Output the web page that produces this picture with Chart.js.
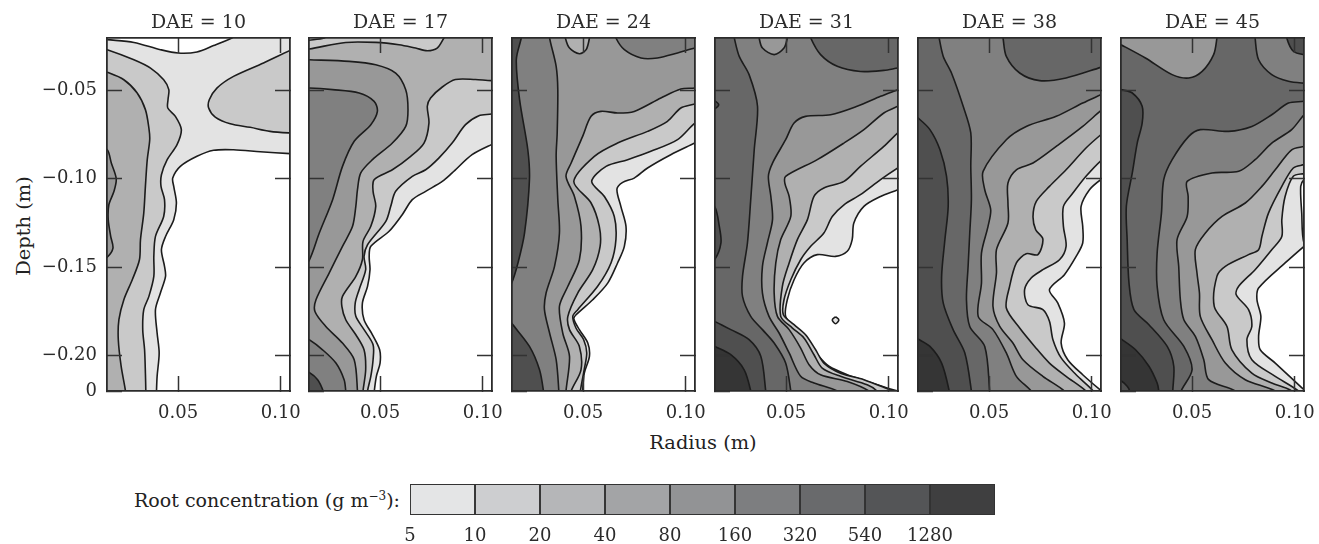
<!DOCTYPE html>
<html>
<head>
<meta charset="utf-8">
<title>Root concentration</title>
<script src="https://cdn.jsdelivr.net/npm/chart.js@4/dist/chart.umd.min.js"></script>
<style>
  html, body { margin: 0; padding: 0; background: #fff; }
  #figure { position: relative; width: 1319px; height: 544px; overflow: hidden; font-family: "DejaVu Serif", serif; color: #222; }
  canvas { position: absolute; display: block; }
  .label { position: absolute; white-space: nowrap; font-size: 19.4px; line-height: 22px; }
  .label sup { font-size: 12px; line-height: 0; }
  #depth-label { left: 24px; top: 226px; transform: translate(-50%, -50%) rotate(-90deg); }
  #radius-label { left: 703px; top: 443px; transform: translate(-50%, -50%); }
  #legend-label { right: 919px; top: 489px; font-size: 19px; }
</style>
</head>
<body>
<div id="figure">
  <div class="label" id="depth-label">Depth (m)</div>
  <div class="label" id="radius-label">Radius (m)</div>
  <div class="label" id="legend-label">Root concentration (g m<sup>−3</sup>):</div>
</div>
<script>
// Contours as [radius mm, depth mm], each closed outside the axes
const daeValues = [10, 17, 24, 31, 38, 45];
const xTicks = [0.05, 0.10];
const xTickLabels = ['0.05', '0.10'];
const yTicks = [-0.05, -0.10, -0.15, -0.20, -0.22];
const yTickLabels = ['−0.05', '−0.10', '−0.15', '−0.20', '0'];
const legendLabels = ['5', '10', '20', '40', '80', '160', '320', '540', '1280', ''];
const legendShades = ['#e4e5e6', '#cdced0', '#b5b6b8', '#a3a4a6', '#929395', '#7d7e80', '#696a6c', '#545557', '#3f3f40'];
const panelShades = ['#ffffff', '#e3e3e3', '#c9c9c9', '#b0b0b0', '#989898', '#808080', '#676767', '#4f4f4f', '#353535'];

// DAE = 10
const dae10Above5 = [[15.5,21.3],[28.5,22.9],[41.4,27],[50,28.9],[59.2,28.3],[67.3,24.7],[76.2,20.4],[78.6,18.5],[110,15],[110,86],[104.5,85.8],[90,84.7],[77,83.6],[67.3,83.9],[59.2,87.3],[51.1,93],[47.4,99.6],[47.9,104.3],[49.2,113.7],[47.9,123.1],[43.9,132.6],[41.9,140.1],[43.4,149.5],[43.9,155.2],[41.4,164.6],[39,174],[39.8,187.2],[40.8,198.5],[39.8,211.7],[39.5,220],[39.4,226],[10,226],[10,20.5]];
const dae10Above10a = [[10,25.5],[15.5,27],[28.5,32.7],[36.6,37.4],[43,44],[45.5,49.6],[45.1,55.3],[45,60],[48.7,64.7],[51.6,72.2],[49.5,80.7],[44.7,89.2],[41.9,97.7],[41.7,104.3],[43.4,111.8],[43,121.3],[39,132.6],[38.2,143.9],[38.2,155.2],[35.8,166.5],[33.3,174],[32.8,185.3],[33.7,196.7],[34.1,209.9],[34.3,220],[34.3,226],[10,226]];
const dae10Above10b = [[110,25],[104.5,27.4],[91.6,34.5],[77,42.1],[68.9,48.7],[65.2,55.3],[64.9,60],[68.1,65.1],[75.4,68.9],[85.1,70.9],[94.8,73.2],[104.5,74.1],[110,74.2]];
const dae10Above20 = [[10,38],[15.5,39.8],[23.6,44],[30.1,51.5],[34.1,60.9],[35.8,71.3],[36.2,77.9],[35,89.2],[34.1,104.3],[33.3,119.4],[31.7,134.4],[31.2,145.8],[27.7,157.1],[23.6,168.4],[21.2,179.7],[20.9,191],[22.3,206.1],[24.4,220],[24.8,226],[10,226]];
const dae10Above40 = [[10,81],[15.5,83.6],[17.5,91.1],[19.9,100],[18.8,107.1],[16.3,114.7],[16,123.1],[17.2,132.6],[18.3,139.2],[15.5,144.3],[10,148]];

// DAE = 17
const dae17Above5 = [[110,78],[104.2,80.7],[94.8,86.4],[85.1,96.7],[80.3,101.5],[72.2,107.1],[65.7,111.8],[60.8,120.3],[54.4,129.7],[45.5,138.2],[44.7,143.9],[45.1,151.4],[43.9,160.8],[41.4,170.3],[42.2,179.7],[46.3,188.2],[49.8,196.7],[50,204.2],[48.2,211.7],[47.2,220],[46.8,226],[10,226],[10,15],[110,15]];
const dae17Above10 = [[10,22.5],[15.5,21.7],[22.8,20.4],[25.2,18.5],[110,15],[110,62],[104.2,63.4],[98.1,64.3],[91.6,69.4],[85.1,79.8],[78.6,88.3],[72.2,94.9],[65.7,98.6],[57.6,107.1],[55.2,115.6],[52.8,124.1],[43.9,137.3],[42.2,143.9],[43,151.4],[39.8,162.7],[37.9,170.3],[38.2,177.8],[42.2,185.3],[46.6,193.8],[46.6,202.3],[45.5,211.7],[43.9,220],[43.5,226],[10,226]];
const dae17Above20 = [[10,27],[15.5,26.6],[33.3,22.9],[47.9,22.9],[59.2,24.2],[67.3,26.1],[73,27.6],[77.8,26.1],[81.1,20.4],[82.7,17.6],[110,15],[110,44],[104.2,44.5],[96.4,43.9],[86.7,43.9],[80.3,48.1],[74.6,54.3],[73,59],[73.8,68.5],[71.4,79.8],[64.9,87.3],[56,94.9],[47.1,100.5],[46.6,107.1],[47.9,115.6],[45.5,126.9],[41.7,135.4],[41.4,145.8],[38.2,155.2],[31.7,166.5],[31.4,172.1],[33.3,179.7],[38.2,188.2],[42.2,196.7],[43,208],[41.7,220],[41.5,226],[10,226]];
const dae17Above40 = [[10,32.5],[15.5,32.7],[35,33.6],[47.9,35.5],[57.6,40.2],[62.5,49.6],[63.6,60.9],[62.5,70.4],[56,79.8],[46.3,89.2],[40.6,96.7],[39,106.2],[38.2,115.6],[36.6,126.9],[31.7,138.2],[25.2,153.3],[18.8,168.4],[18.3,175],[23.6,183.5],[31.7,192.9],[37.4,202.3],[39,220],[39,226],[10,226]];
const dae17Above80a = [[10,49],[15.5,48.7],[26.9,49.6],[39.8,51.5],[47.1,56.2],[48.7,61.9],[45.5,69.4],[37.4,78.8],[31.7,93],[26.9,111.8],[20.4,130.7],[15.5,146.1],[10,154]];
const dae17Above80b = [[10,188],[15.5,191],[22,196.7],[28.5,204.2],[32.5,213.6],[33.3,220],[33.8,226],[10,226]];
const dae17Above320 = [[10,207],[15.5,209.5],[19.6,213.6],[22.3,220],[23.5,226],[10,226]];

// DAE = 24
const dae24Above5 = [[110,76.5],[104.4,79.8],[92.7,86.4],[81.4,93.9],[74.9,99.6],[69.3,102],[66.5,105.8],[68.4,115.6],[70.9,126.9],[70.1,138.2],[66.8,147.6],[62,159],[54.7,168.4],[46.6,176.9],[45.5,179.3],[48.2,185.3],[52.3,192.9],[53.1,200.4],[50.6,209.9],[49.8,220],[49.7,226],[10,226],[10,15],[110,15]];
const dae24Above10 = [[110,64.5],[104.4,68.5],[96,77.9],[83,84.5],[71.7,89.2],[61.2,93],[54.2,101.5],[60.4,110],[65.2,121.3],[66,134.4],[63.6,147.6],[57.1,160.8],[47.4,174],[45,177.8],[46.6,184.5],[50.3,191],[51.8,198.5],[50.6,207.6],[48.7,220],[48.4,226],[10,226],[10,15],[110,15]];
const dae24Above20 = [[110,55],[104.4,57.7],[97.6,60],[91.1,67.5],[81.4,73.2],[66.8,79.8],[55.5,87.3],[45.5,101.5],[53.9,113.7],[57.9,126.9],[58.3,138.2],[54.7,151.4],[47.4,164.6],[42.6,177.8],[43.4,185.3],[48.2,194.8],[49,208],[44.2,220],[43.5,226],[10,226],[10,15],[110,15]];
const dae24Above40 = [[110,47.5],[104.4,48.7],[97.6,49.2],[87.9,54.3],[74.9,61.9],[66.8,62.8],[58.7,61.9],[53.9,64.7],[49.8,76],[44.2,91.1],[41.7,98.6],[45.8,110],[49,126.9],[48.2,145.8],[42.6,160.8],[38.5,172.1],[40.1,187.2],[43.4,200.4],[41.7,220],[41.5,226],[10,226],[10,15],[110,15]];
const dae24Island20 = [[41,15],[41.4,20.4],[43.4,26.1],[48.2,29.3],[51.5,27],[53.1,20.4],[53.5,15]];
const dae24Above80a = [[33.5,15],[33.7,20.4],[36.9,36.4],[37.7,49.6],[37.4,74.1],[36.9,87.3],[37.7,111.8],[38.5,130.7],[36.1,149.5],[32,164.6],[31.2,174],[33.7,187.2],[36.9,202.3],[38.2,220],[38.3,226],[10,226],[10,15]];
const dae24Above80b = [[65,15],[66,20.4],[70.1,27],[78.2,31.7],[86.2,31.7],[96,28.9],[104.4,26.1],[110,25],[110,15]];
const dae24Above320a = [[20.3,15],[19.9,20.4],[17.5,32.7],[19.1,55.3],[23.1,83.6],[23.9,100.5],[21.5,130.7],[18.3,147.6],[15.2,159],[10,170],[10,15]];
const dae24Above320b = [[10,173],[15.2,181.6],[23.9,194.8],[28.8,208],[30.7,220],[31,226],[10,226]];

// DAE = 31
const dae31Above5 = [[110,103],[104.4,106.2],[96,110],[87.9,115.6],[83,125],[82.2,134.4],[79.8,141],[74.1,143.9],[65.2,142.9],[58.7,147.6],[53.9,157.1],[50.6,168.4],[49.8,177.8],[54.7,184.4],[60.4,191],[66,200.4],[70.9,206],[79.8,210.8],[89.5,214.6],[99.2,218.3],[104.4,220],[110,222],[110,226],[10,226],[10,15],[110,15]];
const dae31Speck5 = [[74.1,178],[75.7,179.8],[74.1,182],[72.5,179.8],[74.1,178]];
const dae31Above10 = [[110,90],[104.4,93.9],[96,100.5],[86.2,109],[78.2,114.7],[72.5,121.3],[68.4,130.7],[62,138.2],[57.1,145.8],[52.3,157.1],[49,168.4],[48.7,176.9],[53.9,182.5],[59.5,188.2],[64.4,196.7],[68.4,204.2],[76.5,209.9],[87.9,213.6],[98.4,218.3],[101.6,220],[107,226],[10,226],[10,15],[110,15]];
const dae31Above20 = [[110,69],[104.4,74.1],[97.6,81.7],[86.2,93],[78.2,101.5],[68.4,105.2],[63.6,110],[60.4,123.1],[55.5,134.4],[51.5,147.6],[48.2,160.8],[47.4,177.8],[53.1,184.4],[58.7,190],[63.6,199.5],[67.6,207],[76.5,211.7],[89.5,216.5],[94.3,220],[98,226],[10,226],[10,15],[110,15]];
const dae31Above40 = [[110,56.5],[104.4,59],[97.6,62.8],[87.9,72.2],[78.2,79.8],[65.2,89.2],[49.8,98.6],[49.4,102.4],[51.5,110],[52.3,121.3],[47.4,134.4],[45,147.6],[44.2,164.6],[45.8,177.8],[51.5,185.3],[57.1,195.7],[61.2,205.1],[66.8,210.8],[79.8,214.6],[90.3,220],[94,226],[10,226],[10,15],[110,15]];
const dae31Above80 = [[110,47],[104.4,49.6],[96,53.4],[84.6,59],[71.7,63.8],[59.5,64.7],[53.9,68.5],[49.8,77.9],[43.4,91.1],[41.4,98.6],[42.6,110],[43.4,123.1],[40.9,136.3],[38.5,149.5],[38.5,164.6],[41.7,177.8],[46.6,187.2],[51.5,198.5],[57.1,211.7],[63.6,215.5],[74.9,220],[80,226],[10,226],[10,15],[110,15]];
const dae31Island40 = [[36.5,15],[36.9,20.4],[38.5,26.1],[44.2,29.8],[49,26.1],[50.6,20.4],[51,15]];
const dae31Above160a = [[24,15],[24.8,20.4],[27.2,30.8],[32,41.1],[36.1,59],[34.5,83.6],[32.8,111.8],[31.2,136.3],[28.8,155.2],[28.8,166.5],[32.8,177.8],[38.5,185.3],[44.2,192.9],[49.8,204.2],[52.3,220],[52.8,226],[10,226],[10,15]];
const dae31Above160b = [[61,15],[62,20.4],[66.8,29.8],[74.9,36.4],[86.2,39.3],[97.6,38.7],[104.4,37.4],[110,36.5],[110,15]];
const dae31Above320a = [[10,178],[15.2,180.6],[23.1,185.3],[32,191],[37.7,200.4],[40.1,220],[40.5,226],[10,226]];
const dae31Above320b = [[10,112],[15.2,115.6],[17.5,126.9],[18.3,136.3],[15.2,145.8],[10,150]];
const dae31Above320c = [[12,54],[15.2,55.8],[17.2,58.1],[15.2,60.5],[12,62]];
const dae31Above540 = [[10,192],[15.2,194.8],[23.1,199.5],[29.6,208],[32.8,220],[33.3,226],[10,226]];

// DAE = 38
const dae38Above5 = [[110,96.5],[104.4,100.5],[98.9,106.2],[94.8,115.6],[95.6,126.9],[95.6,136.3],[92.4,143.9],[86.7,154.2],[79.4,162.7],[83.5,170.3],[86.7,181.6],[85.1,192.9],[88.3,202.3],[95.6,210.8],[104.4,219.7],[110,225],[110,226],[10,226],[10,15],[110,15]];
const dae38Above10 = [[110,85],[104.4,89.8],[97.2,98.6],[90.8,108.1],[86.2,115.6],[86.2,126.9],[87.5,138.2],[84.3,145.8],[76.2,151.4],[70.5,156.1],[67.3,162.7],[68.9,171.2],[76.2,174],[79.4,180.6],[81.1,191],[85.1,201.3],[92.4,210.8],[100.5,219.7],[104,226],[10,226],[10,15],[110,15]];
const dae38Above20 = [[110,70],[104.4,75.1],[97.2,82.6],[87.5,94.9],[79.4,104.3],[73,112.8],[71.4,121.3],[72.7,128.8],[76.2,134.1],[73.8,142.9],[68.1,142.4],[63.3,147.6],[60,160.8],[58.4,173.1],[64.9,184.4],[72.2,194.8],[79.4,204.2],[87.5,211.7],[97.2,220],[101,226],[10,226],[10,15],[110,15]];
const dae38Above40 = [[110,56.5],[104.4,61.5],[95.6,70.4],[82.7,81.7],[71.4,91.1],[63.3,94.9],[59.2,102.4],[59.2,113.7],[59.2,125],[53.6,140.1],[53.6,153.3],[51.9,172.1],[55.2,183.5],[61.6,192.9],[66.5,202.3],[76.2,211.7],[86.7,220],[90,226],[10,226],[10,15],[110,15]];
const dae38Above80 = [[110,49.5],[104.4,52.5],[95.6,57.2],[82.7,64.7],[68.1,70.4],[58.4,77.9],[47.1,95.8],[47.9,106.2],[50.8,117.5],[49.5,126.9],[46.3,142],[46.3,159],[44.7,177.8],[51.9,185.3],[58.4,198.5],[63.3,211.7],[70.5,220],[73.5,226],[10,226],[10,15],[110,15]];
const dae38Above160a = [[25,15],[25.7,20.4],[27.7,30.8],[31.7,40.2],[37.4,59],[41.1,74.1],[41.1,93],[41.4,111.8],[40.6,130.7],[39.8,149.5],[39,168.4],[40.6,183.5],[47.9,194.8],[50.3,220],[50.5,226],[10,226],[10,15]];
const dae38Above160b = [[56,15],[56.8,20.4],[58.4,30.8],[64.9,40.2],[74.6,44.5],[87.5,43],[104.4,37],[110,35],[110,15]];
const dae38Above320 = [[10,61],[15.4,65.6],[21.2,72.2],[26.1,83.6],[29.3,98.6],[30.1,115.6],[28.5,134.4],[26.9,155.2],[27.7,170.3],[32.5,185.3],[38.2,198.5],[41.4,220],[41.7,226],[10,226]];
const dae38Above540 = [[10,187],[15.4,190.6],[21.2,194.8],[26.9,204.2],[30.6,220],[31,226],[10,226]];

// DAE = 45
const dae45Above5 = [[110,133],[104.5,138.2],[95.3,147.6],[82.4,161.8],[81.6,168.4],[83.5,177.8],[82.4,189.1],[83.2,196.7],[90.5,204.2],[104.5,219.3],[110,225],[110,226],[10,226],[10,15],[110,15]];
const dae45Above10 = [[110,96],[104.5,97.1],[99.3,98.6],[95.3,110],[93.7,123.1],[93.7,132.6],[88.8,140.1],[80.7,151.4],[72.7,160.8],[71.5,165.6],[77.5,174],[79.1,183.5],[76.7,191],[79.1,202.3],[90.5,211.7],[101.8,220],[106,226],[10,226],[10,15],[110,15]];
const dae45Sliver0 = [[110,96],[104.5,100.5],[102.9,104.3],[103.4,119.4],[104.5,136.3],[110,145]];
const dae45Above20 = [[110,90],[104.5,92],[99.3,93.9],[93.7,104.3],[87.2,119.4],[84,132.6],[82.4,140.1],[77.5,142.9],[66.2,149.5],[62.1,155.2],[60.8,172.1],[67,183.5],[69.4,196.7],[79.1,209.9],[88.8,215.5],[98.5,220],[102,226],[10,226],[10,15],[110,15]];
const dae45Above40 = [[110,80],[104.5,81.7],[98.5,83.6],[90.5,94.9],[84,104.3],[75.9,113.7],[64.6,121.3],[56.5,130.7],[51.6,140.1],[52.4,153.3],[53.6,164.6],[54,177.8],[59.7,191],[66.2,204.2],[75.9,213.6],[90.5,220],[94,226],[10,226],[10,15],[110,15]];
const dae45Above80 = [[110,58],[104.5,63.8],[98.5,72.2],[88.8,79.8],[80.7,89.2],[72.7,95.8],[59.7,96.7],[47.6,101.5],[48.1,110],[47.6,121.3],[42.7,134.4],[43.5,149.5],[44.3,168.4],[46,179.7],[51.6,189.1],[55.7,202.3],[58.1,213.6],[71,220],[75,226],[10,226],[10,15],[110,15]];
const dae45Above160 = [[110,55],[104.5,56.2],[96.9,57.2],[88.8,63.8],[79.1,70.4],[67.8,73.2],[54,72.2],[48.4,76],[40.3,89.2],[36.2,100.5],[35.1,119.4],[33,142],[33,160.8],[36.2,179.7],[46,194.8],[50,208],[44.7,220],[44,226],[10,226],[10,15],[110,15]];
const dae45TopRight80 = [[80.5,15],[80.7,20.4],[82.4,32.7],[88.8,41.1],[96.9,44.9],[104.5,45.9],[110,46],[110,15]];
const dae45Corner320 = [[96,15],[96.1,20.4],[99.3,27.9],[104.5,29.8],[110,30],[110,15]];
const dae45Blob40 = [[10,21],[15.4,24.2],[27.3,31.7],[40.3,41.1],[48.4,43],[54.9,39.3],[60.5,29.8],[62.1,20.4],[62.5,15],[10,15]];
const dae45Above320 = [[10,48],[15.4,49.6],[20.9,51.5],[25.7,59],[25.7,68.5],[23.3,79.8],[20.9,96.7],[18,115.6],[18.4,134.4],[19.3,159],[21.7,174],[29,182.5],[37.9,194.8],[41.1,206],[40.6,220],[40.5,226],[10,226]];
const dae45Above540 = [[10,187],[15.4,190.6],[22.5,196.7],[29,206],[33,215.5],[33.8,220],[34,226],[10,226]];
const dae45Corner320b = [[10,212],[15.4,214.2],[18.4,217.3],[19.6,220],[20,226],[10,226]];

// paint order per panel: [shade index, contour]
const dae10Layers = [[1, dae10Above5], [2, dae10Above10a], [2, dae10Above10b], [3, dae10Above20], [4, dae10Above40]];
const dae17Layers = [[1, dae17Above5], [2, dae17Above10], [3, dae17Above20], [4, dae17Above40], [5, dae17Above80a], [5, dae17Above80b], [7, dae17Above320]];
const dae24Layers = [[1, dae24Above5], [2, dae24Above10], [3, dae24Above20], [4, dae24Above40], [3, dae24Island20], [5, dae24Above80a], [5, dae24Above80b], [7, dae24Above320a], [7, dae24Above320b]];
const dae31Layers = [[1, dae31Above5], [1, dae31Speck5], [2, dae31Above10], [3, dae31Above20], [4, dae31Above40], [5, dae31Above80], [4, dae31Island40], [6, dae31Above160a], [6, dae31Above160b], [7, dae31Above320a], [7, dae31Above320b], [7, dae31Above320c], [8, dae31Above540]];
const dae38Layers = [[1, dae38Above5], [2, dae38Above10], [3, dae38Above20], [4, dae38Above40], [5, dae38Above80], [6, dae38Above160a], [6, dae38Above160b], [7, dae38Above320], [8, dae38Above540]];
const dae45Layers = [[1, dae45Above5], [0, dae45Sliver0], [2, dae45Above10], [3, dae45Above20], [4, dae45Above40], [5, dae45Above80], [6, dae45Above160], [5, dae45TopRight80], [7, dae45Corner320], [4, dae45Blob40], [7, dae45Above320], [8, dae45Above540], [7, dae45Corner320b]];
const allLayers = [dae10Layers, dae17Layers, dae24Layers, dae31Layers, dae38Layers, dae45Layers];

const panelLefts = [107, 309, 512, 715, 918, 1121];
const FONT = '"DejaVu Serif", serif';
const INK = '#2b2b2b';

const toPoint = ([radius, depth]) => ({ x: radius / 1000, y: -depth / 1000 });

function addCanvas(left, top, width, height) {
  const canvas = document.createElement('canvas');
  canvas.width = width;
  canvas.height = height;
  canvas.style.left = left + 'px';
  canvas.style.top = top + 'px';
  canvas.style.width = width + 'px';
  canvas.style.height = height + 'px';
  document.getElementById('figure').appendChild(canvas);
  return canvas;
}

// fixed axis thickness so that the six plot areas line up
const fixSize = (size) => (scale) => {
  if (scale.isHorizontal()) scale.height = size;
  else scale.width = size;
  scale.paddingLeft = scale.paddingRight = scale.paddingTop = scale.paddingBottom = 0;
};

function frameAxis(position, size, bounds, ticks, labels) {
  return {
    type: 'linear',
    position,
    min: bounds[0],
    max: bounds[1],
    afterBuildTicks: (scale) => { scale.ticks = ticks.map(value => ({ value })); },
    afterFit: fixSize(size),
    grid: { drawOnChartArea: false, tickLength: -15, tickColor: '#333', tickWidth: 1.5, z: 1 },
    border: { display: true, color: INK, width: 1.8, z: 1 },
    ticks: {
      display: !!labels,
      autoSkip: false,
      maxRotation: 0,
      padding: position === 'bottom' ? 27 : 25,
      color: INK,
      font: { family: FONT, size: 18 },
      callback: (value, i) => labels ? labels[i] : ''
    }
  };
}

function drawPanel(index) {
  const padLeft = index === 0 ? panelLefts[0] : 6;
  const xBounds = [0.0154, 0.1045];
  const yBounds = [-0.22, -0.0204];
  const layers = allLayers[index];

  new Chart(addCanvas(panelLefts[index] - padLeft, 0, padLeft + 183 + 18, 430), {
    type: 'scatter',
    data: {
      datasets: layers.map(([shade, contour], i) => ({
        data: contour.map(toPoint),
        showLine: true,
        fill: 'shape',
        tension: 0.3,
        pointRadius: 0,
        borderWidth: 1.6,
        borderColor: '#1c1c1c',
        backgroundColor: panelShades[shade],
        order: layers.length - i,
        xAxisID: 'x',
        yAxisID: 'y'
      }))
    },
    options: {
      responsive: false,
      animation: false,
      events: [],
      layout: { padding: { right: 18 } },
      plugins: {
        legend: { display: false },
        tooltip: { enabled: false },
        title: {
          display: true,
          fullSize: false,
          text: 'DAE = ' + daeValues[index],
          color: INK,
          font: { family: FONT, size: 19, weight: 'normal' },
          padding: { top: 12, bottom: 3.2 }
        }
      },
      scales: {
        x: frameAxis('bottom', 39, xBounds, xTicks, xTickLabels),
        y: frameAxis('left', padLeft, yBounds, yTicks, index === 0 ? yTickLabels : null),
        xTop: frameAxis('top', 0, xBounds, xTicks, null),
        yRight: frameAxis('right', 0, yBounds, yTicks.slice(0, 4), null)
      }
    }
  });
}

function drawLegend() {
  new Chart(addCanvas(390, 482, 625, 62), {
    type: 'bar',
    data: {
      labels: [''],
      datasets: legendShades.map(shade => ({
        data: [1],
        backgroundColor: shade,
        borderColor: '#333',
        borderWidth: 1.3,
        borderSkipped: false,
        barPercentage: 1,
        categoryPercentage: 1
      }))
    },
    options: {
      indexAxis: 'y',
      responsive: false,
      animation: false,
      events: [],
      layout: { padding: { left: 20, right: 20, top: 2 } },
      plugins: { legend: { display: false }, tooltip: { enabled: false } },
      scales: {
        x: {
          stacked: true,
          min: 0,
          max: legendShades.length,
          afterFit: fixSize(29),
          grid: { display: false },
          border: { display: false },
          ticks: {
            stepSize: 1,
            autoSkip: false,
            maxRotation: 0,
            padding: 3,
            color: INK,
            font: { family: FONT, size: 18 },
            callback: (value, i) => legendLabels[i]
          }
        },
        y: { stacked: true, display: false }
      }
    }
  });
}

daeValues.forEach((dae, i) => drawPanel(i));
drawLegend();
</script>
</body>
</html>
